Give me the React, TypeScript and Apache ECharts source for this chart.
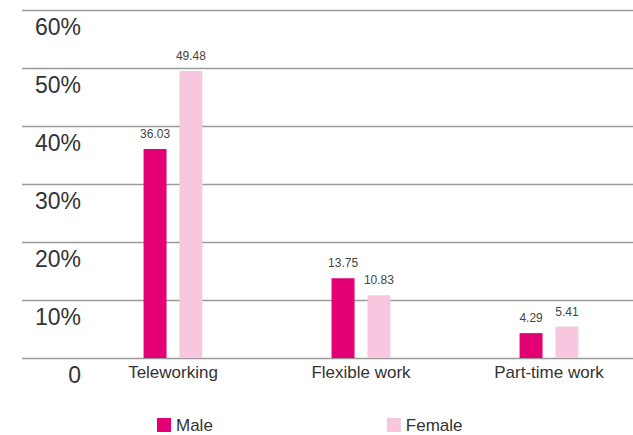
import React, { useEffect, useRef } from "react";
import * as echarts from "echarts";

const categories = ["Teleworking", "Flexible work", "Part-time work"];
const maleValues = [36.03, 13.75, 4.29];
const femaleValues = [49.48, 10.83, 5.41];
const yTicks = [0, 10, 20, 30, 40, 50, 60];

const MALE = "#E20074";
const FEMALE = "#F7C6DF";
const FONT = "'Liberation Sans', Arial, sans-serif";

export default function App() {
  const ref = useRef<HTMLDivElement>(null);
  useEffect(() => {
    if (!ref.current) return;
    const chart = echarts.init(ref.current, null, { renderer: "svg" });
    const yMax = yTicks[yTicks.length - 1];
    const yInt = yTicks[1] - yTicks[0];
    chart.setOption({
      animation: false,
      textStyle: { fontFamily: FONT },
      grid: [
        { left: 22, width: 611, top: 10, bottom: 77 },
        { left: 79, width: 564, top: 10, bottom: 77 },
      ],
      xAxis: [
        { type: "value", gridIndex: 0, show: false, min: 0, max: 1 },
        {
          type: "category",
          gridIndex: 1,
          data: categories,
          axisLine: { show: false },
          axisTick: { show: false },
          axisLabel: { fontSize: 17, color: "#333", margin: 6, fontFamily: FONT },
        },
      ],
      yAxis: [
        {
          type: "value",
          gridIndex: 0,
          min: 0,
          max: yMax,
          interval: yInt,
          offset: -59,
          axisLine: { show: false },
          axisTick: { show: false },
          splitLine: { lineStyle: { color: "#9a9a9a", width: 1.3 } },
          axisLabel: {
            margin: 0,
            fontSize: 23,
            color: "#333",
            fontFamily: FONT,
            verticalAlign: "top",
            lineHeight: 34,
            formatter: (v: number) => (v === 0 ? "0" : v + "%"),
          },
        },
        { type: "value", gridIndex: 1, min: 0, max: yMax, interval: yInt, show: false },
      ],
      legend: {
        left: 152,
        top: 411,
        padding: 5,
        itemWidth: 14,
        itemHeight: 14,
        itemGap: 174,
        icon: "rect",
        textStyle: { fontSize: 17, color: "#333", fontFamily: FONT, lineHeight: 18 },
        data: ["Male", "Female"],
      },
      series: [
        {
          name: "Male",
          type: "bar",
          xAxisIndex: 1,
          yAxisIndex: 1,
          data: maleValues,
          barWidth: 23,
          barGap: "56%",
          itemStyle: { color: MALE },
          label: {
            show: true,
            position: "top",
            distance: 9,
            fontSize: 12,
            color: "#444",
            fontFamily: FONT,
            formatter: (p: any) => p.value.toFixed(2),
          },
        },
        {
          name: "Female",
          type: "bar",
          xAxisIndex: 1,
          yAxisIndex: 1,
          data: femaleValues,
          barWidth: 23,
          barGap: "56%",
          itemStyle: { color: FEMALE },
          label: {
            show: true,
            position: "top",
            distance: 9,
            fontSize: 12,
            color: "#444",
            fontFamily: FONT,
            formatter: (p: any) => p.value.toFixed(2),
          },
        },
      ],
    });
    return () => chart.dispose();
  }, []);
  return (
    <div
      ref={ref}
      style={{ position: "fixed", left: 0, top: 0, width: 660, height: 435, background: "#fff" }}
    />
  );
}
